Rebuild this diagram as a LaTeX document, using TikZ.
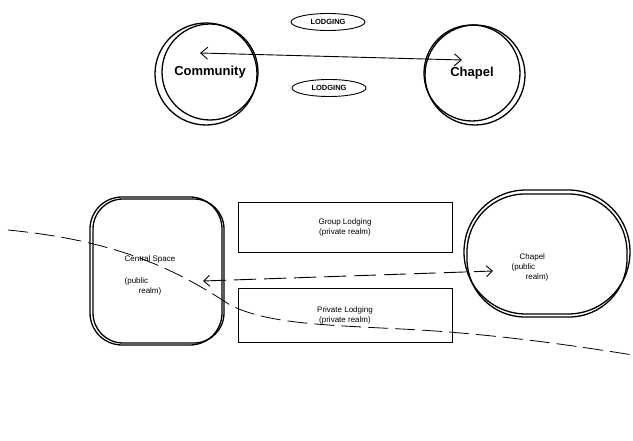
\documentclass[tikz,border=0pt]{standalone}
\usepackage{fontspec}
\setmainfont{Liberation Sans}
\usetikzlibrary{arrows.meta,shapes.geometric}
\begin{document}
\begin{tikzpicture}[x=1pt,y=-1pt,
  ink/.style={line width=1.3pt,black},
  thinink/.style={line width=0.9pt,black},
  ring/.style={circle,ink,draw,minimum size=96pt,inner sep=0pt},
  pill/.style={ellipse,thinink,draw,minimum width=74pt,minimum height=17pt,inner sep=0pt,font=\fontsize{7.5}{8}\selectfont\bfseries},
  bigtext/.style={font=\fontsize{13}{15}\selectfont\bfseries},
  small/.style={font=\fontsize{8}{10}\selectfont},
  box/.style={rectangle,thinink,draw,minimum width=214pt,minimum height=50pt,inner sep=0pt,small,align=center},
]
\useasboundingbox (0,0) rectangle (633,441);
\fill[white] (0,0) rectangle (633,441);

% ---- upper scheme: two circles linked through lodging ----
\node[ring,bigtext] (comm) at (210,72) {Community};
\draw[ink] (206,74) circle[radius=51];
\node[ring,bigtext] (chap) at (472,73) {Chapel};
\draw[ink] (475,75) circle[radius=50];
\node[pill] (lodgeA) at (328,22) {LODGING};
\node[pill] (lodgeB) at (329,88) {LODGING};
\coordinate (commin) at (200,53);
\coordinate (chapin) at (462,60);
\draw[thinink,{Straight Barb[length=7pt,width=12pt]}-{Straight Barb[length=7pt,width=12pt]}] (commin) -- (chapin);

% ---- lower scheme: public spaces with lodging between ----
\node[rectangle,rounded corners=32pt,ink,draw,minimum width=132pt,minimum height=148pt,inner sep=0pt] (central) at (156,271) {};
\draw[ink,rounded corners=30pt] (93,199) rectangle (224,343);
\node[small,align=left] (centraltext) at (150,275) {Central Space\\[12pt](public\\\hspace*{14pt}realm)};

\node[box] (group) at (345,227) {Group Lodging\\(private realm)};
\node[box,minimum height=54pt] (private) at (345,315) {Private Lodging\\(private realm)};

\node[rectangle,rounded corners=62pt,ink,draw,minimum width=166pt,minimum height=124pt,inner sep=0pt] (chapel) at (547,252) {};
\draw[ink,rounded corners=58pt] (467,194) rectangle (627,317);
\node[small,align=left] (chapeltext) at (530,267) {\hspace*{8pt}Chapel\\(public\\\hspace*{14pt}realm)};

\coordinate (cleft) at (203,281);
\coordinate (cright) at (493,271);
\draw[thinink,dash pattern=on 22pt off 8pt,{Straight Barb[length=6pt,width=11pt]}-{Straight Barb[length=6pt,width=11pt]}] (cleft) -- (cright);

% path line sweeping through the site
\coordinate (pathW) at (8,230);
\coordinate (pathE) at (633,355);
\draw[line width=0.8pt,dash pattern=on 20pt off 7pt]
  (pathW) .. controls (110,240) and (170,265) .. (230,305)
  .. controls (270,325) and (330,325) .. (420,330)
  .. controls (500,335) and (570,345) .. (pathE);
\end{tikzpicture}
\end{document}
